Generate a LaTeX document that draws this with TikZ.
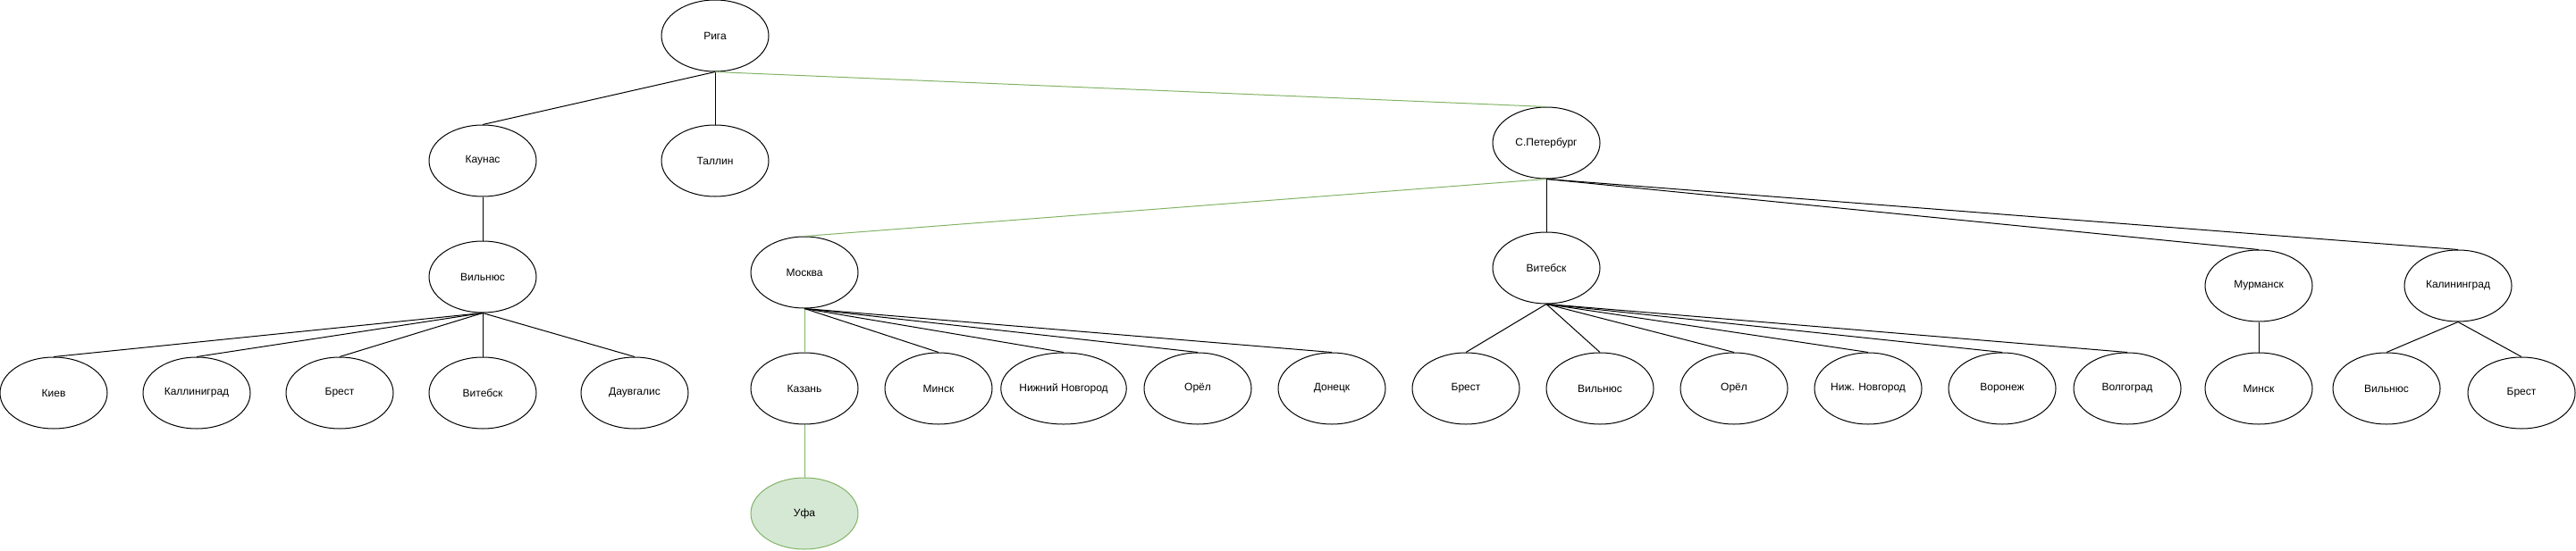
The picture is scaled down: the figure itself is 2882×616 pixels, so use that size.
\documentclass[tikz,border=0pt]{standalone}
\usepackage{fontspec}
\setmainfont{Liberation Sans}
\usetikzlibrary{shapes.geometric}

\definecolor{routegreen}{HTML}{82B366}
\definecolor{goalfill}{HTML}{D5E8D4}

\tikzset{
  city/.style={ellipse, draw, line width=1pt, minimum width=120pt, minimum height=80pt,
    inner sep=0pt, font=\fontsize{12}{14}\selectfont},
  goal/.style={city, draw=routegreen, fill=goalfill},
  link/.style={line width=1pt},
  route/.style={line width=1pt, draw=routegreen}
}

\begin{document}
\begin{tikzpicture}[x=1pt, y=-1pt]
    \useasboundingbox (0, 0) rectangle (2882, 616);

    % level 1 and 2
    \node[city] (riga) at (800, 40) {Рига};
    \node[city] (kaunas) at (540, 180) {Каунас};
    \node[city] (tallin) at (800, 180) {Таллин};
    \node[city] (spb) at (1730, 160) {С.Петербург};

    % level 3
    \node[city] (vilnius) at (540, 310) {Вильнюс};
    \node[city] (moskva) at (900, 305) {Москва};
    \node[city] (vitebsk) at (1730, 300) {Витебск};
    \node[city] (murmansk) at (2527, 320) {Мурманск};
    \node[city] (kalin) at (2750, 320) {Калининград};

    % under Vilnius
    \node[city] (kiev) at (60, 440) {Киев};
    \node[city] (vkalin) at (220, 440) {Каллиниград};
    \node[city] (vbrest) at (380, 440) {Брест};
    \node[city] (vvitebsk) at (540, 440) {Витебск};
    \node[city] (daug) at (710, 440) {Даувгалис};

    % under Moskva
    \node[city] (kazan) at (900, 435) {Казань};
    \node[city] (mminsk) at (1050, 435) {Минск};
    \node[city] (mnnov) at (1190, 435) {Нижний Новгород};
    \node[city] (morel) at (1340, 435) {Орёл};
    \node[city] (donetsk) at (1490, 435) {Донецк};
    \node[goal] (ufa) at (900, 575) {Уфа};

    % under Vitebsk
    \node[city] (tbrest) at (1640, 435) {Брест};
    \node[city] (tvilnius) at (1790, 435) {Вильнюс};
    \node[city] (torel) at (1940, 435) {Орёл};
    \node[city] (tnnov) at (2090, 435) {Ниж. Новгород};
    \node[city] (voronezh) at (2240, 435) {Воронеж};
    \node[city] (volgograd) at (2380, 435) {Волгоград};

    % under Murmansk and Kaliningrad
    \node[city] (rminsk) at (2527, 435) {Минск};
    \node[city] (kvilnius) at (2670, 435) {Вильнюс};
    \node[city] (kbrest) at (2821, 440) {Брест};

    \draw[link] (riga.south) -- (kaunas.north);
    \draw[link] (riga.south) -- (tallin.north);
    \draw[route] (riga.south) -- (spb.north);
    \draw[link] (kaunas.south) -- (vilnius.north);

    \foreach \c in {kiev, vkalin, vbrest, vvitebsk, daug}
      \draw[link] (vilnius.south) -- (\c.north);

    \draw[route] (spb.south) -- (moskva.north);
    \foreach \c in {vitebsk, murmansk, kalin}
      \draw[link] (spb.south) -- (\c.north);

    \draw[route] (moskva.south) -- (kazan.north);
    \foreach \c in {mminsk, mnnov, morel, donetsk}
      \draw[link] (moskva.south) -- (\c.north);
    \draw[route] (kazan.south) -- (ufa.north);

    \foreach \c in {tbrest, tvilnius, torel, tnnov, voronezh, volgograd}
      \draw[link] (vitebsk.south) -- (\c.north);

    \draw[link] (murmansk.south) -- (rminsk.north);
    \draw[link] (kalin.south) -- (kvilnius.north);
    \draw[link] (kalin.south) -- (kbrest.north);
  \end{tikzpicture}
\end{document}
